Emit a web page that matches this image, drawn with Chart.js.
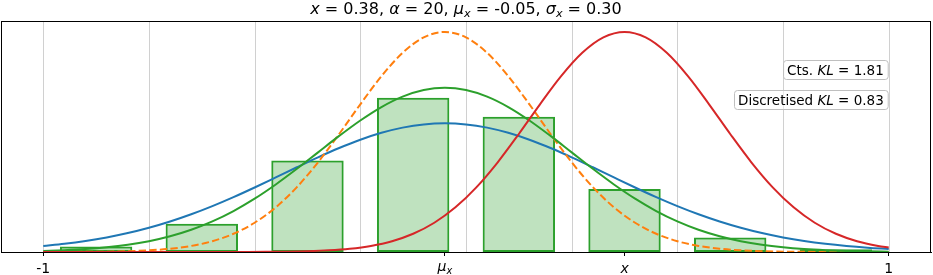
<!DOCTYPE html>
<html>
<head>
<meta charset="utf-8">
<script src="https://cdn.jsdelivr.net/npm/chart.js@4.4.1/dist/chart.umd.min.js"></script>
<style>
    html, body { margin: 0; padding: 0; background: #fff; }
    #wrap { width: 933px; height: 275px; }
</style>
</head>
<body>
<div id="wrap"><canvas id="chart"></canvas></div>
<script>
// sample positions for the curves centred on mu_x
const xs = [-1, -0.95, -0.9, -0.85, -0.8, -0.75, -0.7, -0.65, -0.6, -0.55, -0.5, -0.45, -0.4, -0.35, -0.3, -0.25, -0.2, -0.15, -0.1,
    -0.05, 0, 0.05, 0.1, 0.15, 0.2, 0.25, 0.3, 0.35, 0.4, 0.45, 0.5, 0.55, 0.6, 0.65, 0.7, 0.75, 0.8, 0.85, 0.9, 0.95, 1];

const blueY = [0.0481, 0.0659, 0.0888, 0.1176, 0.1531, 0.1961, 0.2468, 0.3054, 0.3715, 0.4442, 0.5223, 0.6037, 0.6861, 0.7665, 0.8418, 0.9089, 0.9647, 1.0067, 1.0328,
    1.0416, 1.0328, 1.0067, 0.9647, 0.9089, 0.8418, 0.7665, 0.6861, 0.6037, 0.5223, 0.4442, 0.3715, 0.3054, 0.2468, 0.1961, 0.1531, 0.1176, 0.0888, 0.0659, 0.0481, 0.0345, 0.0243];

const orangeY = [0.0002, 0.0006, 0.0013, 0.0030, 0.0066, 0.0135, 0.0264, 0.0493, 0.0874, 0.1475, 0.2368, 0.3616, 0.5255, 0.7264, 0.9555, 1.1956, 1.4233, 1.6122, 1.7373,
    1.7811, 1.7373, 1.6122, 1.4233, 1.1956, 0.9555, 0.7264, 0.5255, 0.3616, 0.2368, 0.1475, 0.0874, 0.0493, 0.0264, 0.0135, 0.0066, 0.0030, 0.0013, 0.0006, 0.0002, 0.0001, 0.0000];

const greenY = [0.0088, 0.0148, 0.0240, 0.0380, 0.0584, 0.0874, 0.1272, 0.1800, 0.2477, 0.3316, 0.4317, 0.5467, 0.6733, 0.8066, 0.9397, 1.0648, 1.1736, 1.2579, 1.3115,
    1.3298, 1.3115, 1.2579, 1.1736, 1.0648, 0.9397, 0.8066, 0.6733, 0.5467, 0.4317, 0.3316, 0.2477, 0.1800, 0.1272, 0.0874, 0.0584, 0.0380, 0.0240, 0.0148, 0.0088, 0.0051, 0.0029];

// red curve is sampled around x
const redX = [-1, -0.975, -0.925, -0.875, -0.825, -0.775, -0.725, -0.675, -0.625, -0.575, -0.525, -0.475, -0.425, -0.375, -0.325, -0.275, -0.225, -0.175, -0.125, -0.075, -0.025,
    0.025, 0.075, 0.125, 0.175, 0.225, 0.275, 0.325, 0.375, 0.425, 0.475, 0.525, 0.575, 0.625, 0.675, 0.725, 0.775, 0.825, 0.875, 0.925, 0.975, 1];
const redY = [0, 0, 0, 0, 0, 0, 0, 0, 0.0001, 0.0002, 0.0006, 0.0013, 0.0030, 0.0066, 0.0135, 0.0264, 0.0493, 0.0874, 0.1475, 0.2368, 0.3616,
    0.5255, 0.7264, 0.9555, 1.1956, 1.4233, 1.6122, 1.7373, 1.7811, 1.7373, 1.6122, 1.4233, 1.1956, 0.9555, 0.7264, 0.5255, 0.3616, 0.2368, 0.1475, 0.0874, 0.0493, 0.0363];

// discretised bins
const binCentres = [-0.875, -0.625, -0.375, -0.125, 0.125, 0.375, 0.625, 0.875];
const binHeights = [0.045, 0.229, 0.740, 1.249, 1.095, 0.509, 0.118, 0.022];

const gridValues = [-1, -0.75, -0.5, -0.25, 0, 0.25, 0.5, 0.75, 1];
const tickValues = [-1, -0.05, 0.375, 1];
// label pieces: r = upright, i = italic, s = italic subscript
const tickLabels = [
    [['-1', 'r']],
    [['μ', 'i'], ['x', 's']],
    [['x', 'i']],
    [['1', 'r']]
];
const titleParts = [['x', 'i'], [' = 0.38, ', 'r'], ['α', 'i'], [' = 20, ', 'r'], ['μ', 'i'], ['x', 's'],
    [' = -0.05, ', 'r'], ['σ', 'i'], ['x', 's'], [' = 0.30', 'r']];
const klBoxes = [
    [['Cts. ', 'r'], ['KL', 'i'], [' = 1.81', 'r']],
    [['Discretised ', 'r'], ['KL', 'i'], [' = 0.83', 'r']]
];

const FONT = '"DejaVu Sans"';

function partFont(style, size) {
    if (style === 'r') return `${size}px ${FONT}`;
    if (style === 'i') return `italic ${size}px ${FONT}`;
    return `italic ${size * 0.7}px ${FONT}`;
}

function richWidth(ctx, parts, size) {
    let w = 0;
    parts.forEach(([t, s]) => {
        ctx.font = partFont(s, size);
        w += ctx.measureText(t).width;
    });
    return w;
}

function drawRich(ctx, parts, x, y, size, align) {
    const w = richWidth(ctx, parts, size);
    let cx = align === 'center' ? x - w / 2 : align === 'right' ? x - w : x;
    ctx.textAlign = 'left';
    ctx.textBaseline = 'alphabetic';
    ctx.fillStyle = '#000';
    parts.forEach(([t, s]) => {
        ctx.font = partFont(s, size);
        const dy = s === 's' ? size * 0.2 : 0;
        ctx.fillText(t, cx, y + dy);
        cx += ctx.measureText(t).width;
    });
    return w;
}

function roundRect(ctx, x, y, w, h, r) {
    ctx.beginPath();
    ctx.moveTo(x + r, y);
    ctx.lineTo(x + w - r, y);
    ctx.arcTo(x + w, y, x + w, y + r, r);
    ctx.lineTo(x + w, y + h - r);
    ctx.arcTo(x + w, y + h, x + w - r, y + h, r);
    ctx.lineTo(x + r, y + h);
    ctx.arcTo(x, y + h, x, y + h - r, r);
    ctx.lineTo(x, y + r);
    ctx.arcTo(x, y, x + r, y, r);
    ctx.closePath();
}

const decorations = {
    id: 'decorations',
    beforeDatasetsDraw(chart) {
        const { ctx, chartArea } = chart;
        const xScale = chart.scales.x;
        ctx.save();
        ctx.strokeStyle = '#d0d0d0';
        ctx.lineWidth = 1;
        gridValues.forEach(v => {
            const px = Math.round(xScale.getPixelForValue(v)) + 0.5;
            ctx.beginPath();
            ctx.moveTo(px, chartArea.top);
            ctx.lineTo(px, chartArea.bottom);
            ctx.stroke();
        });
        ctx.restore();
    },
    afterDatasetsDraw(chart) {
        const { ctx, chartArea } = chart;
        const xScale = chart.scales.x;
        ctx.save();

        // frame
        ctx.strokeStyle = '#000';
        ctx.lineWidth = 1;
        ctx.strokeRect(chartArea.left + 0.5, chartArea.top + 0.5,
            chartArea.right - chartArea.left - 1, chartArea.bottom - chartArea.top);

        // title
        drawRich(ctx, titleParts, (chartArea.left + chartArea.right) / 2, 14, 16, 'center');

        // tick labels
        tickValues.forEach((v, i) => {
            const px = xScale.getPixelForValue(v);
            const isMu = tickLabels[i].length > 1;
            drawRich(ctx, tickLabels[i], px, isMu ? 271 : 272.5, 14, 'center');
        });

        // KL boxes
        const right = xScale.getPixelForValue(1) - 1;
        const tops = [chartArea.top + 39, chartArea.top + 69];
        klBoxes.forEach((parts, i) => {
            const size = 13.5;
            const w = richWidth(ctx, parts, size);
            const bx = right - w - 8;
            const by = tops[i];
            roundRect(ctx, bx + 0.5, by + 0.5, w + 8, 19, 3);
            ctx.fillStyle = 'rgba(255,255,255,0.5)';
            ctx.fill();
            ctx.strokeStyle = '#bfbfbf';
            ctx.lineWidth = 1;
            ctx.stroke();
            drawRich(ctx, parts, right - 4, by + 15, size, 'right');
        });
        ctx.restore();
    }
};

const ctx = document.getElementById('chart').getContext('2d');

new Chart(ctx, {
    data: {
        datasets: [
            {
                type: 'bar',
                data: binCentres.map((x, i) => ({ x: x, y: binHeights[i] })),
                backgroundColor: 'rgba(44,160,44,0.3)',
                borderColor: '#2ca02c',
                borderWidth: 2,
                borderSkipped: false,
                barPercentage: 1,
                categoryPercentage: 0.685,
                order: 10
            },
            {
                type: 'line',
                data: xs.map((x, i) => ({ x: x, y: blueY[i] })),
                borderColor: '#1f77b4',
                borderWidth: 2,
                pointRadius: 0,
                cubicInterpolationMode: 'monotone',
                order: 4
            },
            {
                type: 'line',
                data: xs.map((x, i) => ({ x: x, y: orangeY[i] })),
                borderColor: '#ff7f0e',
                borderWidth: 2,
                borderDash: [7.4, 3.2],
                pointRadius: 0,
                cubicInterpolationMode: 'monotone',
                order: 3
            },
            {
                type: 'line',
                data: xs.map((x, i) => ({ x: x, y: greenY[i] })),
                borderColor: '#2ca02c',
                borderWidth: 2,
                pointRadius: 0,
                cubicInterpolationMode: 'monotone',
                order: 2
            },
            {
                type: 'line',
                data: redX.map((x, i) => ({ x: x, y: redY[i] })),
                borderColor: '#d62728',
                borderWidth: 2,
                pointRadius: 0,
                cubicInterpolationMode: 'monotone',
                order: 1
            }
        ]
    },
    options: {
        responsive: true,
        maintainAspectRatio: false,
        animation: false,
        layout: { padding: { left: 1, right: 2, top: 21, bottom: 0 } },
        plugins: {
            legend: { display: false },
            tooltip: { enabled: false },
            title: { display: false }
        },
        scales: {
            x: {
                type: 'linear',
                min: -1.1,
                max: 1.1,
                offset: false,
                afterBuildTicks: scale => { scale.ticks = tickValues.map(v => ({ value: v })); },
                afterFit: scale => { scale.height = 23; },
                ticks: { autoSkip: false, maxRotation: 0, callback: () => '' },
                grid: { offset: false, drawOnChartArea: false, color: '#000', tickLength: 4, lineWidth: 1 },
                border: { color: '#000', width: 1 }
            },
            y: {
                display: false,
                min: 0,
                max: 1.87
            }
        }
    },
    plugins: [decorations]
});
</script>
</body>
</html>
